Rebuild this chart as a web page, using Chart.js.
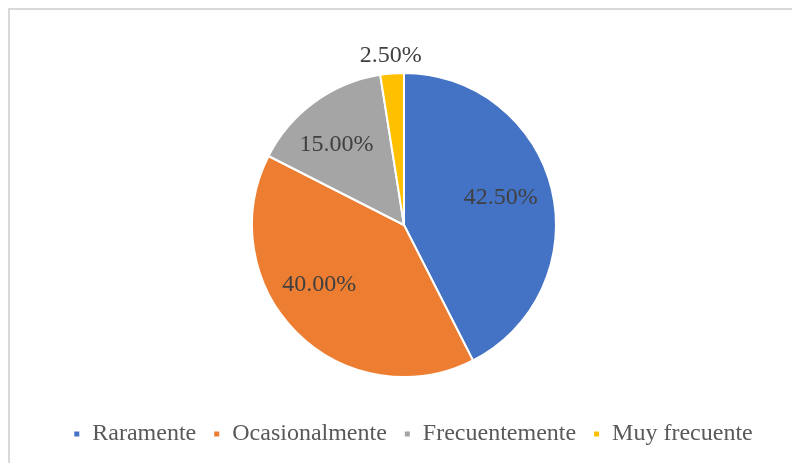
<!DOCTYPE html>
<html>
<head>
<meta charset="utf-8">
<script src="https://cdn.jsdelivr.net/npm/chart.js@4"></script>
<style>
  html, body { margin: 0; padding: 0; background: #fff; }
  .frame {
    position: absolute; left: 8px; top: 8px; width: 800px; height: 470px;
    border: 2px solid #d9d9d9; box-sizing: border-box;
  }
  .wrap { position: absolute; left: 0; top: 0; width: 792px; height: 463px; }
</style>
</head>
<body>
<div class="frame"></div>
<div class="wrap"><canvas id="myChart" width="792" height="463"></canvas></div>
<script>
const categories = ["Raramente", "Ocasionalmente", "Frecuentemente", "Muy frecuente"];
const percents   = [42.5, 40.0, 15.0, 2.5];
const labelTexts = ["42.50%", "40.00%", "15.00%", "2.50%"];
const colors     = ["#4472C4", "#ED7D31", "#A5A5A5", "#FFC000"];
const labelDist  = [0.66, 0.68, 0.69, 1.12]; // fraction of radius
const labelTurn  = [-2, 10, -4, 0];          // degrees off the slice middle

const serif = "'Liberation Serif', 'Times New Roman', serif";

// draws the percentage labels near each slice's mid angle
const sliceLabels = {
  id: 'sliceLabels',
  afterDatasetsDraw(chart) {
    const ctx = chart.ctx;
    const meta = chart.getDatasetMeta(0);
    ctx.save();
    ctx.font = "24px " + serif;
    ctx.fillStyle = "#404040";
    ctx.textAlign = "center";
    ctx.textBaseline = "middle";
    meta.data.forEach((arc, i) => {
      const p = arc.getProps(['x', 'y', 'startAngle', 'endAngle', 'outerRadius'], true);
      const mid = (p.startAngle + p.endAngle) / 2 + labelTurn[i] * Math.PI / 180;
      const r = p.outerRadius * labelDist[i];
      ctx.fillText(labelTexts[i], p.x + Math.cos(mid) * r, p.y + Math.sin(mid) * r);
    });
    ctx.restore();
  }
};

// the legend sits a little right of the pie centre
const legendShift = {
  id: 'legendShift',
  afterLayout(chart) {
    chart.legend.left += 9;
    chart.legend.right += 9;
  }
};

new Chart(document.getElementById('myChart'), {
  type: 'pie',
  data: {
    labels: categories,
    datasets: [{
      data: percents,
      backgroundColor: colors,
      borderColor: "#ffffff",
      borderWidth: 2
    }]
  },
  options: {
    responsive: false,
    animation: false,
    radius: 152,
    layout: { padding: { top: 45, bottom: 7, left: 16, right: 0 } },
    plugins: {
      legend: {
        position: 'bottom',
        labels: {
          boxWidth: 7,
          boxHeight: 7,
          padding: 17,
          color: "#595959",
          font: { family: serif, size: 24 }
        }
      },
      tooltip: { enabled: false }
    }
  },
  plugins: [sliceLabels, legendShift]
});
</script>
</body>
</html>
